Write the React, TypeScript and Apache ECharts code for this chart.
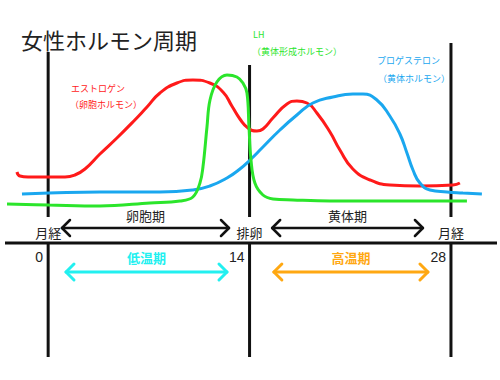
import React, { useEffect, useRef } from "react";
import * as echarts from "echarts";

// Cycle day markers
const cycleDays = [0, 14, 28];
const cycleEvents = ["月経", "排卵", "月経"];
const cycleDayLabels = ["0", "14", "28"];

// Hormone curves: [day, relative level]
const estrogen: number[][] = [
  [-2.17, 71], [-1.96, 67], [-1.4, 66], [0.06, 66], [1.17, 66], [1.86, 68], [2.56, 74],
  [3.6, 89], [4.78, 105], [5.89, 121], [6.87, 136], [7.77, 150], [8.95, 160], [10.06, 163],
  [11.24, 160], [12.15, 151], [12.77, 137], [13.33, 124], [13.89, 115], [14.51, 112],
  [14.93, 114], [15.62, 125], [16.6, 139], [17.29, 142], [17.99, 140], [18.68, 130],
  [19.59, 111], [20.28, 93], [21.18, 74], [22.37, 63], [23.76, 58], [25.84, 57],
  [28.14, 58], [28.62, 60],
];
const lh: number[][] = [
  [-2.86, 39], [0.06, 38], [3.6, 37], [7.08, 40], [9.16, 42], [10.06, 46], [10.55, 60],
  [10.76, 76], [11.04, 116], [11.25, 143], [11.73, 161], [12.43, 168], [13.12, 166],
  [13.54, 160], [13.82, 150], [13.96, 116], [14.1, 83], [14.37, 60], [14.93, 48],
  [15.63, 44], [17.02, 43], [19.59, 42], [24.46, 42], [29.11, 42],
];
const progesterone: number[][] = [
  [-1.82, 49], [0.06, 50], [3.6, 51], [7.77, 51], [10.06, 53], [11.24, 57], [12.43, 65],
  [13.33, 74], [14.03, 83], [14.93, 96], [16.11, 113], [17.29, 128], [18.4, 140],
  [19.79, 146], [21.18, 149], [21.88, 149], [22.85, 143], [23.75, 127], [24.45, 109],
  [24.94, 90], [25.36, 73], [25.84, 60], [26.54, 53], [27.72, 51], [28.83, 50], [30.15, 49],
];

// Phases: [from day, to day]
const phaseNames = ["卵胞期", "黄体期"];
const phaseSpans = [[0.96, 12.57], [15.57, 26.05]];
const tempNames = ["低温期", "高温期"];
const tempSpans = [[1.24, 12.43], [15.69, 26.4]];

const COLORS = {
  estrogen: "#ff1a1a",
  lh: "#2be52b",
  progesterone: "#1aa7ef",
  low: "#22f0f0",
  high: "#ffa812",
  ink: "#111111",
  text: "#222222",
};
const FONT = '"Noto Sans CJK JP", "Noto Sans", sans-serif';

export default function App() {
  const ref = useRef<HTMLDivElement>(null);
  useEffect(() => {
    if (!ref.current) return;
    const chart = echarts.init(ref.current, undefined, { renderer: "svg" });

    const lineTops = [191, 178, 200];
    const axisLevel = 0;
    const bottomLevel = -114;
    const gapTop = 26;

    const vlineData = cycleDays.map((d, i) => [d, lineTops[i], i]);
    const phaseData = phaseSpans.map((s, i) => [s[0], s[1], 15, i]);
    const tempData = tempSpans.map((s, i) => [s[0], s[1], -29, i]);

    const arrowRender = (kind: "phase" | "temp") => (params: any, api: any) => {
      const i = api.value(3);
      const p1 = api.coord([api.value(0), api.value(2)]);
      const p2 = api.coord([api.value(1), api.value(2)]);
      const color = kind === "phase" ? COLORS.ink : i === 0 ? COLORS.low : COLORS.high;
      const name = kind === "phase" ? phaseNames[i] : tempNames[i];
      const h = 8;
      const st = { stroke: color, lineWidth: kind === "phase" ? 2.5 : 3, fill: "none", lineCap: "round", lineJoin: "round" };
      const mid = (p1[0] + p2[0]) / 2;
      return {
        type: "group",
        children: [
          { type: "line", shape: { x1: p1[0], y1: p1[1], x2: p2[0], y2: p2[1] }, style: st },
          { type: "polyline", shape: { points: [[p1[0] + h, p1[1] - h], p1, [p1[0] + h, p1[1] + h]] }, style: st },
          { type: "polyline", shape: { points: [[p2[0] - h, p2[1] - h], p2, [p2[0] - h, p2[1] + h]] }, style: st },
          {
            type: "text",
            style: {
              text: name,
              x: mid,
              y: p1[1] - (kind === "phase" ? 13 : 15),
              align: "center",
              verticalAlign: "middle",
              fill: kind === "phase" ? COLORS.text : color,
              fontSize: 13,
              fontWeight: kind === "phase" ? "normal" : "bold",
              fontFamily: FONT,
            },
          },
        ],
      };
    };

    chart.setOption({
      animation: false,
      backgroundColor: "#ffffff",
      title: {
        text: "女性ホルモン周期",
        left: 16,
        top: 23,
        textStyle: { fontSize: 22, fontWeight: "normal", color: COLORS.text, fontFamily: FONT },
      },
      grid: { left: 5, right: 3, top: 0, bottom: 0 },
      xAxis: { type: "value", min: -3, max: 31.2, show: false },
      yAxis: { type: "value", min: -137, max: 243, show: false },
      graphic: [
        { type: "text", left: 71, top: 84, style: { text: "エストロゲン", fill: COLORS.estrogen, fontSize: 9, fontFamily: FONT } },
        { type: "text", left: 70, top: 100, style: { text: "（卵胞ホルモン）", fill: COLORS.estrogen, fontSize: 9, fontFamily: FONT } },
        { type: "text", left: 253, top: 30, style: { text: "LH", fill: COLORS.lh, fontSize: 9, fontFamily: FONT } },
        { type: "text", left: 252, top: 47, style: { text: "（黄体形成ホルモン）", fill: COLORS.lh, fontSize: 9, fontFamily: FONT } },
        { type: "text", left: 377, top: 56, style: { text: "プロゲステロン", fill: COLORS.progesterone, fontSize: 9, fontFamily: FONT } },
        { type: "text", left: 378, top: 74, style: { text: "（黄体ホルモン）", fill: COLORS.progesterone, fontSize: 9, fontFamily: FONT } },
      ],
      series: [
        {
          type: "custom",
          data: vlineData,
          silent: true,
          z: 1,
          renderItem: (params: any, api: any) => {
            const d = api.value(0);
            const i = api.value(2);
            const top = api.coord([d, api.value(1)]);
            const gt = api.coord([d, gapTop]);
            const ax = api.coord([d, axisLevel]);
            const bt = api.coord([d, bottomLevel]);
            const st = { stroke: COLORS.ink, lineWidth: 3 };
            return {
              type: "group",
              children: [
                { type: "line", shape: { x1: top[0], y1: top[1], x2: gt[0], y2: gt[1] }, style: st },
                { type: "line", shape: { x1: ax[0], y1: ax[1], x2: bt[0], y2: bt[1] }, style: st },
                {
                  type: "text",
                  style: {
                    text: cycleEvents[i], x: ax[0], y: ax[1] - 11, align: "center", verticalAlign: "middle",
                    fill: COLORS.text, fontSize: 13, fontFamily: FONT,
                  },
                },
                {
                  type: "text",
                  style: {
                    text: cycleDayLabels[i], x: ax[0] - 5, y: ax[1] + 14, align: "right", verticalAlign: "middle",
                    fill: COLORS.text, fontSize: 14, fontFamily: '"Liberation Sans", Arial, sans-serif',
                  },
                },
              ],
            };
          },
        },
        {
          type: "line",
          data: [[-3, 0], [31.2, 0]],
          symbol: "none",
          lineStyle: { color: COLORS.ink, width: 3 },
          silent: true,
          z: 1,
        },
        { type: "custom", data: phaseData, renderItem: arrowRender("phase"), silent: true, z: 3 },
        { type: "custom", data: tempData, renderItem: arrowRender("temp"), silent: true, z: 3 },
        {
          type: "line", data: estrogen, smooth: 0.5, symbol: "none", clip: false,
          lineStyle: { color: COLORS.estrogen, width: 3 }, z: 4,
        },
        {
          type: "line", data: progesterone, smooth: 0.5, symbol: "none", clip: false,
          lineStyle: { color: COLORS.progesterone, width: 3 }, z: 4,
        },
        {
          type: "line", data: lh, smooth: 0.4, symbol: "none", clip: false,
          lineStyle: { color: COLORS.lh, width: 3 }, z: 4,
        },
      ],
    });
    return () => chart.dispose();
  }, []);
  return <div ref={ref} style={{ position: "absolute", left: 0, top: 0, width: 500, height: 380 }} />;
}
